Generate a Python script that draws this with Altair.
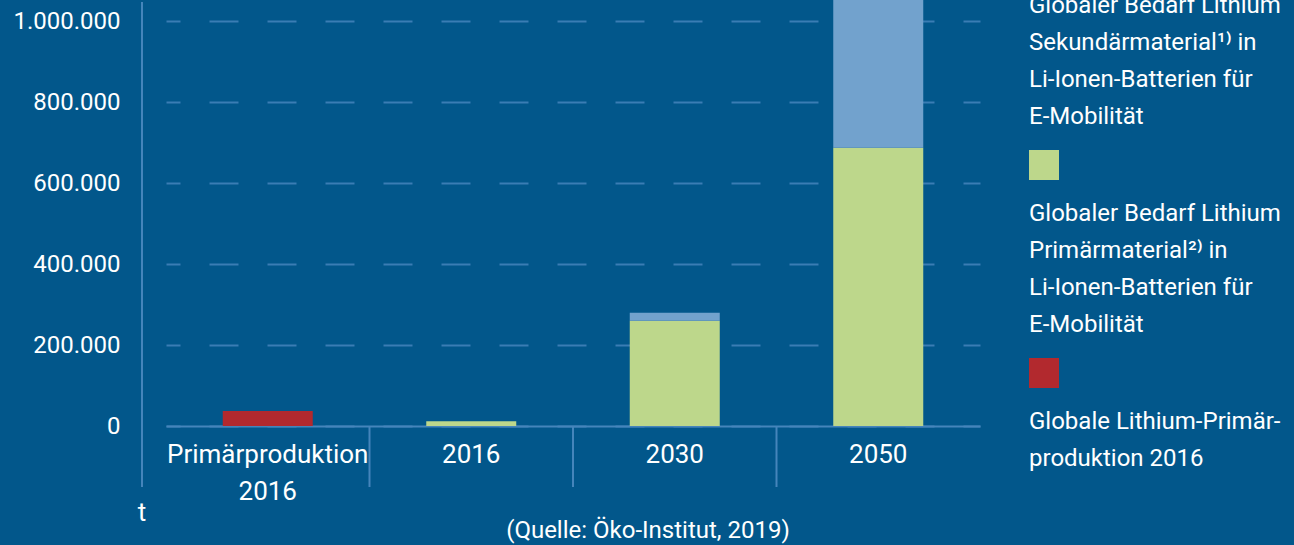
import altair as alt
import pandas as pd

# ---------------- data ----------------
categories = ["Primärproduktion 2016", "2016", "2030", "2050"]
category_labels = ["Primärproduktion\n2016", "2016", "2030", "2050"]

series_names = [
    "Globaler Bedarf Lithium Sekundärmaterial",
    "Globaler Bedarf Lithium Primärmaterial",
    "Globale Lithium-Primärproduktion 2016",
]
legend_texts = [
    "Globaler Bedarf Lithium\nSekundärmaterial¹⁾ in\nLi-Ionen-Batterien für\nE-Mobilität",
    "Globaler Bedarf Lithium\nPrimärmaterial²⁾ in\nLi-Ionen-Batterien für\nE-Mobilität",
    "Globale Lithium-Primär-\nproduktion 2016",
]
series_colors = ["#72a2cd", "#bdd78b", "#b2292e"]

production_2016 = [37000, 0, 0, 0]
primary_demand = [0, 12000, 260000, 688000]
secondary_demand = [0, 0, 20000, 410000]

y_ticks = [0, 200000, 400000, 600000, 800000, 1000000]

source_text = "(Quelle: Öko-Institut, 2019)"
unit_text = "t"

# ---------------- style ----------------
BG = "#02578b"
GRID = "#3a7db4"
AXIS = "#4585bb"
FONT = "Roboto"

rows = []
for i, c in enumerate(categories):
    for s, vals, order in [
        (series_names[2], production_2016, 0),
        (series_names[1], primary_demand, 1),
        (series_names[0], secondary_demand, 2),
    ]:
        if vals[i] > 0:
            rows.append({"cat": c, "series": s, "value": vals[i], "ord": order})
bars_df = pd.DataFrame(rows)

xscale = alt.Scale(domain=categories, paddingInner=0, paddingOuter=0)
color_scale = alt.Scale(domain=series_names, range=series_colors)

bars = alt.Chart(bars_df).mark_bar(size=90).encode(
    x=alt.X("cat:N", scale=xscale, sort=categories,
            axis=alt.Axis(title=None, labels=False, ticks=False, grid=False,
                          domain=True, domainColor=AXIS, domainWidth=2)),
    y=alt.Y("value:Q", stack="zero",
            scale=alt.Scale(domain=[0, 1053000], nice=False, zero=True),
            axis=alt.Axis(title=None, values=y_ticks, grid=True, gridColor=GRID,
                          gridWidth=2, gridDash=[29, 29], gridDashOffset=15,
                          gridOpacity=1, domain=False, ticks=False, tickSize=0,
                          labelPadding=46, labelFontSize=24, labelColor="white",
                          labelFont=FONT,
                          labelExpr="replace(format(datum.value, ',d'), regexp(',', 'g'), '.')")),
    color=alt.Color("series:N", scale=color_scale, legend=None),
    order=alt.Order("ord:Q"),
)

# category labels under the axis
cat_df = pd.DataFrame({"cat": categories, "label": category_labels})
cat_text = alt.Chart(cat_df).mark_text(
    font=FONT, fontSize=26, color="white", lineBreak="\n", lineHeight=37,
    baseline="alphabetic", align="center"
).encode(x=alt.X("cat:N", sort=categories), y=alt.value(463), text="label:N")

# separators between categories
sep_df = pd.DataFrame({"cat": categories[1:]})
seps = alt.Chart(sep_df).mark_rule(color=AXIS, strokeWidth=2).encode(
    x=alt.X("cat:N", sort=categories, bandPosition=0),
    y=alt.value(426), y2=alt.value(487)
)

# vertical axis line (detached)
vline = alt.Chart(pd.DataFrame({"a": [0]})).mark_rule(color=AXIS, strokeWidth=2).encode(
    x=alt.value(-24), y=alt.value(2), y2=alt.value(487)
)

unit = alt.Chart(pd.DataFrame({"t": [unit_text]})).mark_text(
    font=FONT, fontSize=26, color="white", align="center", baseline="alphabetic"
).encode(x=alt.value(-24), y=alt.value(521), text="t:N")

source = alt.Chart(pd.DataFrame({"t": [source_text]})).mark_text(
    font=FONT, fontSize=24, color="white", align="center", baseline="alphabetic"
).encode(x=alt.value(482), y=alt.value(538), text="t:N")

# custom legend (swatch above text)
leg_rows = []
for i, (name, txt) in enumerate(zip(series_names, legend_texts)):
    top = -58 + 208 * i
    leg_rows.append({"series": name, "text": txt, "sq_top": top, "sq_bot": top + 30,
                     "txt_y": top + 71})
leg_df = pd.DataFrame(leg_rows)

leg_sq = alt.Chart(leg_df).mark_rect().encode(
    x=alt.value(863), x2=alt.value(893),
    y=alt.Y("sq_top:Q", scale=None), y2="sq_bot:Q",
    color=alt.Color("series:N", scale=color_scale, legend=None),
)
leg_txt = alt.Chart(leg_df).mark_text(
    font=FONT, fontSize=24, color="white", lineBreak="\n", lineHeight=37,
    baseline="alphabetic", align="left"
).encode(x=alt.value(863), y=alt.Y("txt_y:Q", scale=None), text="text:N")

chart = alt.layer(bars, seps, cat_text, vline, unit, source, leg_sq, leg_txt).properties(
    width=814, height=426,
    autosize=alt.AutoSizeParams(type="none"),
    padding={"left": 166, "top": 0, "right": 314, "bottom": 119},
    background=BG,
).configure_view(stroke=None)

chart.save("out.html", embed_options={"renderer": "svg", "actions": False})
